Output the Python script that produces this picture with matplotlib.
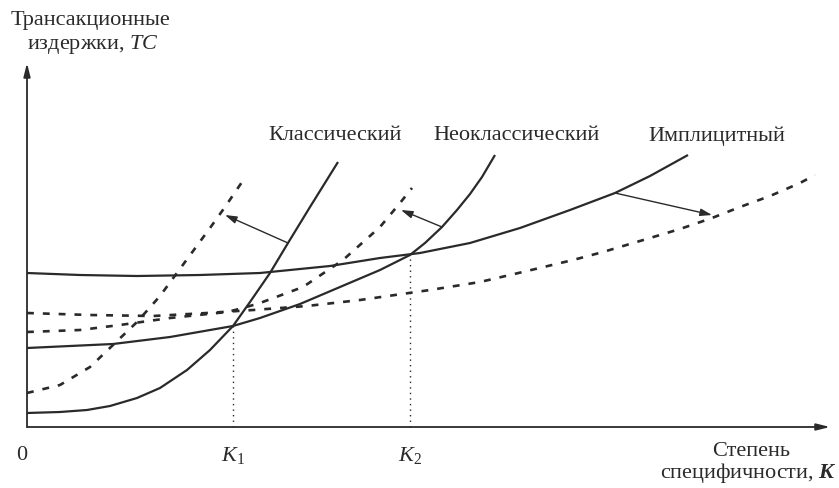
import numpy as np
import matplotlib.pyplot as plt

plt.rcParams['font.family'] = ['Liberation Serif', 'DejaVu Serif']
plt.rcParams['mathtext.fontset'] = 'custom'
plt.rcParams['mathtext.rm'] = 'Liberation Serif'
plt.rcParams['mathtext.it'] = 'Liberation Serif:italic'
plt.rcParams['mathtext.bf'] = 'Liberation Serif:bold'
plt.rcParams['mathtext.bfit'] = 'Liberation Serif:italic:bold'

INK = "#2a2a2a"
FS = 16

# ---------- curves (K along x, TC along y, arbitrary units) ----------
class_k    = [0, 33, 60, 83, 110, 133, 160, 183, 206, 223, 243, 261, 283, 311]
class_tc   = [14, 15, 17, 21, 29, 39, 57, 77, 101, 125, 154, 184, 220, 265]
class2_k   = [0, 33, 63, 86, 110, 133, 158, 183, 198, 215]
class2_tc  = [34, 42, 60, 82, 105, 131, 165, 199, 220, 245]

neo_k      = [0, 86, 143, 206, 233, 273, 313, 353, 383, 398, 415, 430, 443, 455, 468]
neo_tc     = [79, 83, 90, 101, 109, 123, 140, 157, 172, 184, 200, 217, 233, 250, 272]
neo2_k     = [0, 53, 93, 143, 200, 216, 233, 276, 316, 353, 373, 385]
neo2_tc    = [95, 97, 102, 109, 115, 119, 124, 140, 167, 200, 224, 239]

impl_k     = [0, 53, 110, 173, 233, 303, 353, 393, 443, 493, 543, 588, 623, 661]
impl_tc    = [154, 152, 151, 152, 154, 161, 169, 174, 184, 199, 217, 234, 251, 272]
impl2_k    = [0, 63, 126, 180, 226, 280, 333, 403, 453, 500, 546, 576, 623, 653, 685, 713, 743, 773, 788]
impl2_tc   = [114, 112, 111, 114, 117, 121, 127, 137, 145, 156, 167, 175, 189, 198, 209, 220, 231, 244, 252]

# shift arrows: (from solid curve) -> (to dashed curve)
shift_from = [(261, 184), (415, 200), (588, 234)]
shift_to   = [(198, 212), (374, 217), (685, 212)]

# equilibrium points K1, K2
k_marks  = [206, 383]
k_tc     = [101, 172]
k_labels = [r"$K_1$", r"$K_2$"]

names    = ["Классический", "Неоклассический", "Имплицитный"]
name_pos = [(308, 291), (490, 291), (690, 291)]

X_END, Y_END = 803, 364

fig = plt.figure(figsize=(8.39, 4.88), dpi=100)
ax = fig.add_axes([0, 0, 1, 1])
ax.set_xlim(-27, 812)
ax.set_ylim(-61, 427)
ax.axis("off")

solid = dict(color=INK, lw=1.6, solid_capstyle="butt")
dash = dict(color=INK, lw=1.9, ls=(0, (2.6, 3.4)), dash_capstyle="butt")
ax.plot(class_k, class_tc, **solid)
ax.plot(neo_k, neo_tc, **solid)
ax.plot(impl_k, impl_tc, **solid)
ax.plot(class2_k, class2_tc, **dash)
ax.plot(neo2_k, neo2_tc, **dash)
ax.plot(impl2_k, impl2_tc, **dash)

for (x0, y0), (x1, y1) in zip(shift_from, shift_to):
    ax.annotate("", xy=(x1, y1), xytext=(x0, y0),
                arrowprops=dict(arrowstyle="-|>,head_length=0.7,head_width=0.22",
                                color=INK, lw=1.0, shrinkA=0, shrinkB=0))

for k, tc, lab in zip(k_marks, k_tc, k_labels):
    ax.plot([k, k], [0, tc], color=INK, lw=1.0, ls=(0, (1, 3)))
    ax.text(k, -28, lab, ha="center", va="center", fontsize=FS, color=INK)

# axes with arrows
for tip in [(0, Y_END), (X_END, 0)]:
    ax.annotate("", xy=tip, xytext=(0, 0),
                arrowprops=dict(arrowstyle="-|>,head_length=0.8,head_width=0.2",
                                color=INK, lw=1.3, shrinkA=0, shrinkB=0))

for name, (x, y) in zip(names, name_pos):
    ax.text(x, y, name, ha="center", va="center", fontsize=FS, color=INK)

ax.text(-16, 406, "Трансакционные", ha="left", va="center", fontsize=FS, color=INK)
ax.text(0, 383, "издержки, $TC$", ha="left", va="center", fontsize=FS, color=INK)
ax.text(-5, -28, "0", ha="center", va="center", fontsize=FS, color=INK)
ax.text(724, -24, "Степень", ha="center", va="center", fontsize=FS, color=INK)
ax.text(810, -46, r"специфичности, $\mathbfit{K}$", ha="right", va="center",
        fontsize=FS, color=INK)

fig.savefig("out.png", dpi=100, facecolor="white")
